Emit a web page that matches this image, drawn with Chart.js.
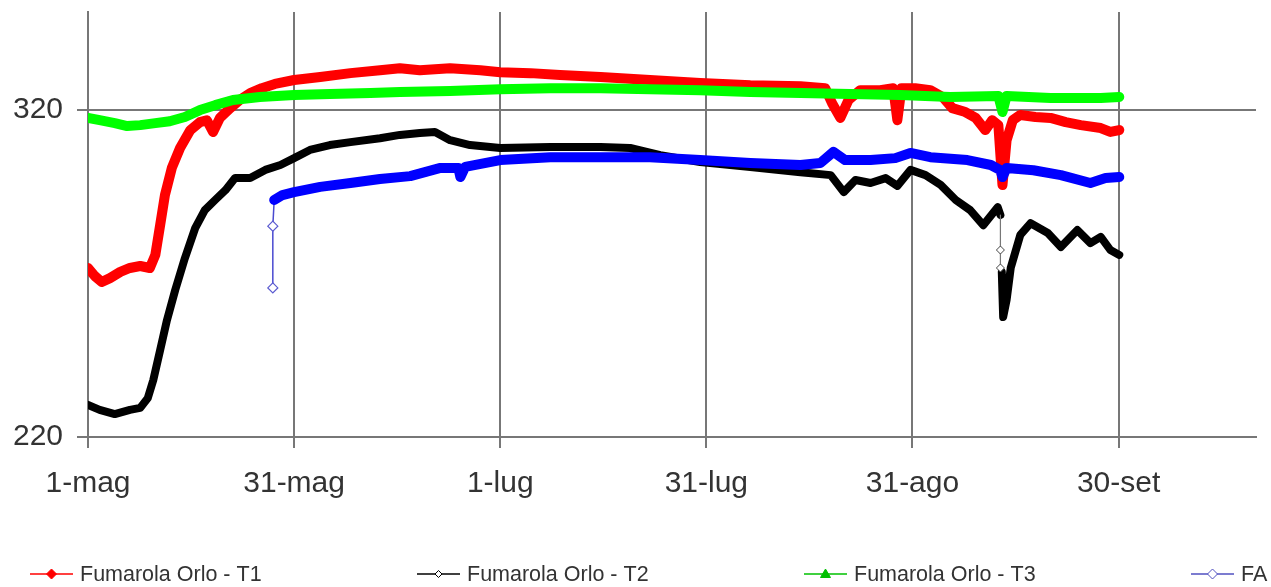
<!DOCTYPE html>
<html><head><meta charset="utf-8">
<script src="https://cdn.jsdelivr.net/npm/chart.js@4/dist/chart.umd.min.js"></script>
<style>html,body{margin:0;padding:0;background:#fff}#wrap{position:relative;width:1271px;height:587px}</style>
</head><body><div id="wrap"><canvas id="c"></canvas></div>
<script>
// ---- data (days since 1-mag, temperature) ----
const xTickDays = [0, 30, 60, 90, 120, 150];
const xTickLabels = ['1-mag', '31-mag', '1-lug', '31-lug', '31-ago', '30-set'];
const yTickValues = [220, 320];
const seriesNames = ['Fumarola Orlo - T1', 'Fumarola Orlo - T2', 'Fumarola Orlo - T3', 'FA'];

const t1Days = [0,1.0,2.0,3.2,4.7,6.1,7.6,9.0,9.8,10.5,11.2,12.2,13.4,14.9,16.3,17.3,18.2,19.2,20.7,22.1,23.6,25.3,27.2,30.0,33.8,38.2,42.5,45.4,48.3,52.7,57.1,60.0,64.4,68.7,74.6,81.8,89.1,96.4,103.7,107.3,108.3,109.5,110.7,112.4,115.3,117.2,117.8,118.4,120.4,122.6,124.4,125.8,127.7,129.2,130.6,131.6,132.5,133.1,133.7,134.6,135.7,137.9,140.1,142.3,144.5,147.4,148.8,150.1];
const t1Temps = [271.7,269.2,267.4,268.6,270.5,271.7,272.3,271.7,275.7,284.8,294.0,302.3,308.4,313.9,316.3,316.9,313.3,317.6,320.6,323.1,325.2,326.7,328.0,329.2,330.1,331.3,332.2,332.8,332.2,332.8,332.2,331.6,331.3,330.7,330.1,329.2,328.3,327.6,327.3,326.7,322.1,317.6,323.1,326.1,326.1,326.7,316.9,326.7,326.7,326.1,324.0,320.6,319.4,317.6,313.9,316.9,315.4,297.1,310.8,316.9,318.5,317.9,317.6,316.3,315.4,314.5,313.3,313.9];

const t2Days = [0,1.7,3.9,6.1,7.6,8.7,9.5,10.5,11.5,12.7,14.1,15.6,17.0,18.5,20.0,21.4,23.6,25.8,28.0,30.0,32.3,35.2,38.2,42.5,45.4,48.3,50.5,52.7,55.6,60.0,67.3,74.6,78.9,83.3,89.1,96.4,103.7,108.1,110.0,111.7,113.9,116.1,117.8,119.7,121.9,124.1,126.3,128.4,130.3,132.4,132.8,132.8,132.8,133.0,133.2,133.7,134.3,135.7,137.2,139.7,141.6,144.0,145.9,147.4,148.8,150.1];
const t2Temps = [229.8,228.3,227.0,228.3,228.9,231.9,237.4,246.6,255.8,265.0,274.7,283.9,289.4,292.5,295.5,299.2,299.2,301.7,303.2,305.3,307.8,309.3,310.2,311.4,312.4,313.0,313.3,310.8,309.3,308.4,308.7,308.7,308.4,306.2,304.1,302.6,301.0,300.1,294.9,298.6,297.7,299.2,296.8,301.7,300.1,297.1,292.5,289.4,284.8,290.3,287.9,277.2,271.7,270.5,256.7,261.9,271.7,281.8,285.4,282.4,278.1,283.3,279.3,281.2,277.2,275.7];

const t3Days = [0,1.7,3.9,5.7,7.6,9.8,11.9,14.1,16.3,18.5,21.1,25.0,30.0,35.2,41.1,45.4,52.7,60.0,67.3,74.6,81.8,89.1,96.4,103.7,111.0,118.2,125.5,132.5,133.1,133.7,140.1,147.4,150.1];
const t3Temps = [317.6,316.9,316.0,315.1,315.4,316.0,316.6,317.9,320.0,321.5,323.1,324.0,324.6,324.9,325.2,325.5,325.8,326.4,326.7,326.7,326.4,326.1,325.5,325.2,324.9,324.6,324.0,324.3,319.4,324.3,323.7,323.7,324.0];

const faDays = [26.9,26.9,27.1,28.3,30.0,33.8,38.2,42.5,46.9,51.3,53.9,54.2,54.9,60.0,67.3,74.6,81.8,89.1,96.4,103.7,106.6,108.5,110.2,113.9,117.5,119.7,122.6,128.0,131.4,132.8,133.1,133.7,137.6,141.6,145.9,148.1,150.1];
const faTemps = [265.6,284.5,292.5,294.0,294.9,296.5,297.7,298.9,299.8,302.3,302.3,299.5,302.6,304.7,305.6,305.6,305.6,304.7,303.8,303.2,303.8,307.2,304.7,304.7,305.3,306.9,305.6,304.7,303.2,301.6,299.5,302.3,301.6,300.1,297.7,299.2,299.5];

// ---- styles ----
const FONT = "'Liberation Sans', Arial, sans-serif";
const TEXT = '#333333';
const GRID = '#777777';
const T2_THIN = [50, 51, 52], T2_MARK = [51, 52];
const FA_THIN = [0, 1], FA_MARK = [0, 1];

const zip = (xs, ys) => xs.map((x, i) => ({x, y: ys[i]}));

const datasets = [
  {label: seriesNames[0], data: zip(t1Days, t1Temps), borderColor: '#ff0000', backgroundColor: '#ff0000',
   borderWidth: 10, pointRadius: 0, order: 4},
  {label: seriesNames[1], data: zip(t2Days, t2Temps), borderColor: '#000000', backgroundColor: '#ffffff',
   borderWidth: 8, order: 3, pointStyle: 'rectRot',
   pointRadius: c => T2_MARK.includes(c.dataIndex) ? 4 : 0, pointBorderColor: '#444', pointBorderWidth: 1,
   segment: {borderWidth: c => T2_THIN.includes(c.p0DataIndex) ? 1.2 : undefined,
             borderColor: c => T2_THIN.includes(c.p0DataIndex) ? '#777' : undefined}},
  {label: seriesNames[2], data: zip(t3Days, t3Temps), borderColor: '#00ff00', backgroundColor: '#00ff00',
   borderWidth: 10, pointRadius: 0, order: 2},
  {label: seriesNames[3], data: zip(faDays, faTemps), borderColor: '#0000ff', backgroundColor: '#ffffff',
   borderWidth: 10, order: 1, pointStyle: 'rectRot',
   pointRadius: c => FA_MARK.includes(c.dataIndex) ? 5 : 0, pointBorderColor: '#5a5ad0', pointBorderWidth: 1.2,
   segment: {borderWidth: c => FA_THIN.includes(c.p0DataIndex) ? 1.5 : undefined,
             borderColor: c => FA_THIN.includes(c.p0DataIndex) ? '#4a4ad0' : undefined}}
];

const legendLayout = {starts: [30, 417, 804, 1191], lineLen: 43, textGap: 7, y: 574, font: '21.5px ' + FONT};
const legendStyles = [
  {color: '#ff0000', marker: 'diamond', fill: '#ff0000', r: 5},
  {color: '#000000', marker: 'diamond', fill: '#ffffff', r: 3.5},
  {color: '#00c000', marker: 'triangle', fill: '#00c000', r: 5},
  {color: '#5050c0', marker: 'diamond', fill: '#ffffff', r: 5}
];

const legendPlugin = {
  id: 'bottomLegend',
  afterDraw(chart) {
    const ctx = chart.ctx;
    ctx.save();
    seriesNames.forEach((name, i) => {
      const s = legendStyles[i];
      const x0 = legendLayout.starts[i], y = legendLayout.y;
      ctx.strokeStyle = s.color; ctx.lineWidth = 1.5;
      ctx.beginPath(); ctx.moveTo(x0, y); ctx.lineTo(x0 + legendLayout.lineLen, y); ctx.stroke();
      const mx = x0 + legendLayout.lineLen / 2;
      ctx.beginPath();
      if (s.marker === 'diamond') {
        ctx.moveTo(mx, y - s.r); ctx.lineTo(mx + s.r, y); ctx.lineTo(mx, y + s.r); ctx.lineTo(mx - s.r, y); ctx.closePath();
      } else {
        ctx.moveTo(mx, y - s.r); ctx.lineTo(mx + s.r, y + s.r * 0.7); ctx.lineTo(mx - s.r, y + s.r * 0.7); ctx.closePath();
      }
      ctx.fillStyle = s.fill; ctx.fill(); ctx.lineWidth = 1; ctx.stroke();
      ctx.fillStyle = TEXT; ctx.font = legendLayout.font; ctx.textBaseline = 'middle'; ctx.textAlign = 'left';
      ctx.fillText(name, x0 + legendLayout.lineLen + legendLayout.textGap, y + 1);
    });
    ctx.restore();
  }
};

new Chart(document.getElementById('c'), {
  type: 'line',
  data: {datasets},
  options: {
    responsive: true, maintainAspectRatio: false, animation: false,
    layout: {padding: {left: 0, right: 15, top: 12, bottom: 0}},
    plugins: {legend: {display: false}, tooltip: {enabled: false}},
    elements: {line: {tension: 0, borderJoinStyle: 'round', borderCapStyle: 'round'}},
    scales: {
      x: {
        type: 'linear', min: 0, max: 170,
        afterBuildTicks: s => { s.ticks = xTickDays.map(v => ({value: v})); },
        afterFit: s => { s.height = 150; s.paddingLeft = 0; s.paddingRight = 0; },
        ticks: {callback: (v) => { const i = xTickDays.indexOf(v); return i >= 0 ? xTickLabels[i] : ''; },
                font: {family: FONT, size: 30}, color: TEXT, padding: 18, maxRotation: 0, autoSkip: false},
        grid: {color: GRID, lineWidth: 2, tickLength: 11, drawTicks: true},
        border: {color: GRID, width: 2}
      },
      y: {
        type: 'linear', min: 220, max: 350,
        afterBuildTicks: s => { s.ticks = yTickValues.map(v => ({value: v})); },
        afterFit: s => { s.width = 88; s.paddingTop = 0; s.paddingBottom = 0; },
        ticks: {font: {family: FONT, size: 30}, color: TEXT, padding: 14},
        grid: {color: GRID, lineWidth: 2, tickLength: 11, drawTicks: true},
        border: {color: GRID, width: 2}
      }
    }
  },
  plugins: [legendPlugin]
});
</script>
</body></html>
